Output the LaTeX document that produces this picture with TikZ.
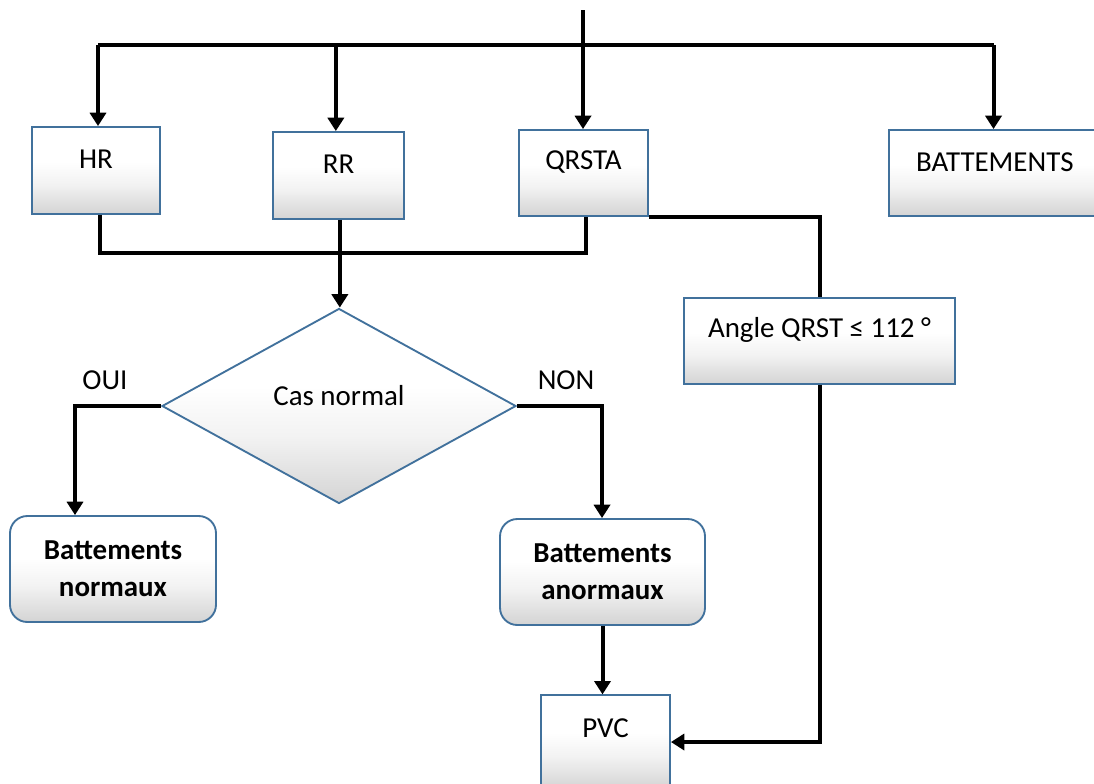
\documentclass[tikz,border=0pt]{standalone}
\usepackage{fontspec}
\setmainfont{Carlito}
\usetikzlibrary{arrows.meta,shapes.geometric}
\definecolor{boxblue}{RGB}{65,113,156}
% white upper half fading to light grey at the bottom (25bp..75bp covers the shape)
\pgfdeclareverticalshading{boxshade}{100bp}{color(0bp)=(black!17); color(25bp)=(black!17); color(42bp)=(black!5); color(55bp)=(white); color(100bp)=(white)}
\begin{document}
\begin{tikzpicture}[x=0.75pt,y=-0.75pt,
  every node/.style={font=\fontsize{21.7}{27}\selectfont},
  box/.style={draw=boxblue, line width=1.4pt, shading=boxshade, rectangle, inner sep=0pt},
  rbox/.style={box, rounded corners=13pt, align=center, font=\fontsize{21.7}{28}\selectfont\bfseries},
  decision/.style={draw=boxblue, line width=1.4pt, shading=boxshade, diamond, inner sep=0pt},
  lbl/.style={yshift=8.25pt, inner sep=0pt},
  txt/.style={inner sep=0pt},
  conn/.style={line width=3pt, black},
  arr/.style={conn, -{Triangle[length=10pt,width=12pt]}}]
\useasboundingbox (0,0) rectangle (1094,783);
\clip (0,0) rectangle (1094,783);

% measurement boxes
\node[box, minimum width=96pt, minimum height=65.25pt, label={[name=hrt,lbl]center:HR}] (hr) at (96,170.5) {};
\node[box, minimum width=98.25pt, minimum height=65.25pt, label={[name=rrt,lbl]center:RR}] (rr) at (338.5,175.5) {};
\node[box, minimum width=96.75pt, minimum height=64.5pt, label={[name=qrstat,lbl]center:QRSTA}] (qrsta) at (583.5,173) {};
\node[box, minimum width=156.75pt, minimum height=64.5pt, label={[name=batt,lbl,xshift=1pt]center:BATTEMENTS}] (bat) at (993.5,173) {};
\node[box, minimum width=203.25pt, minimum height=64.5pt, label={[name=anglet,lbl]center:Angle QRST ≤ 112 °}] (angle) at (819.5,341) {};

% decision
\node[decision, minimum width=265.5pt, minimum height=146.25pt, label={[name=dect,yshift=7.5pt,inner sep=0pt]center:Cas normal}] (dec) at (339,406) {};
\node[txt] (oui) at (105,380) {OUI};
\node[txt] (non) at (566,380) {NON};

% outcomes
\node[rbox, minimum width=154.5pt, minimum height=79.5pt] (norm) at (113,569) {Battements\\normaux};
\node[rbox, minimum width=153.75pt, minimum height=79.5pt] (anorm) at (602.5,572) {Battements\\anormaux};
\node[box, minimum width=96.75pt, minimum height=70pt, label={[name=pvct,lbl,yshift=2pt]center:PVC}] (pvc) at (605.5,742) {};

% connector points
\coordinate (in) at (583,10);
\coordinate (bus) at (0,45);
\coordinate (merge) at (0,253);
\coordinate (ouiturn) at (75,0);
\coordinate (nonturn) at (602,0);

% input and distribution bus
\draw[arr] (in) -- (in |- qrsta.north);
\draw[conn] ([xshift=1.5pt]hr.north |- bus) -- (bat.north |- bus);
\draw[arr] ([xshift=1.5pt]hr.north |- bus) -- ([xshift=1.5pt]hr.north);
\draw[arr] ([xshift=-2pt]rr.north |- bus) -- ([xshift=-2pt]rr.north);
\draw[arr] (bat.north |- bus) -- (bat.north);

% merge of HR, RR and QRSTA into the decision
\draw[conn] ([xshift=3pt]hr.south) -- ([xshift=3pt]hr.south |- merge) -- ([xshift=2pt]qrsta.south |- merge) -- ([xshift=2pt]qrsta.south);
\draw[arr] ([xshift=1pt]rr.south) -- ([xshift=1pt]rr.south |- dec.north);

% decision branches
\draw[arr] (dec.west) -| (ouiturn |- norm.north);
\draw[arr] (dec.east) -| (nonturn |- anorm.north);
\draw[arr] (anorm.south) -- (anorm.south |- pvc.north);

% QRST angle path
\draw[conn] (qrsta.south east) -| (angle.north);
\draw[arr] (angle.south) |- (pvc.east);
\end{tikzpicture}
\end{document}
